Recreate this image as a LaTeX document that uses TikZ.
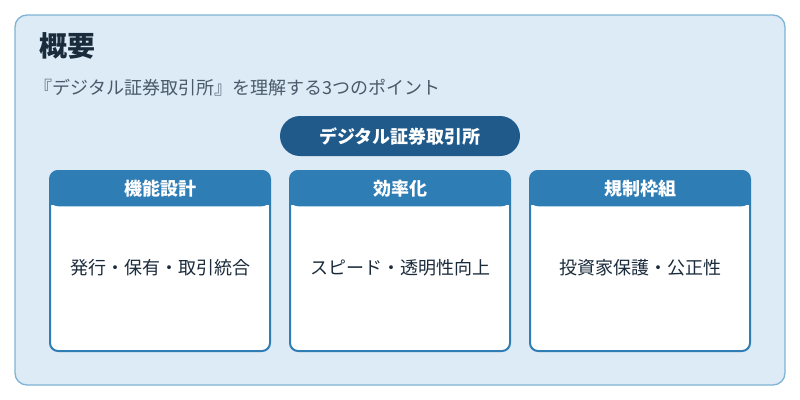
\documentclass[tikz,border=0pt]{standalone}
\usepackage{fontspec}
\setmainfont{Noto Sans CJK JP}
\usetikzlibrary{positioning}
\definecolor{bgblue}{HTML}{DCEBF6}
\definecolor{edgeblue}{HTML}{7FB3D5}
\definecolor{headblue}{HTML}{2E7DB5}
\definecolor{pillblue}{HTML}{1F5A8A}
\definecolor{titleink}{HTML}{1A2B3C}
\definecolor{subink}{HTML}{4A5A6A}
\tikzset{
  cardbody/.style={draw=headblue, line width=1.5pt, fill=white, rounded corners=6pt,
    minimum width=165pt, minimum height=135pt, anchor=north},
  cardhead/.style={fill=headblue, text=white, font=\bfseries\fontsize{13.5}{16}\selectfont,
    minimum width=165pt, minimum height=27pt, anchor=north, rounded corners=6pt},
  cardtext/.style={font=\fontsize{13.5}{16}\selectfont, text=titleink}
}
\begin{document}
\begin{tikzpicture}[x=0.75pt,y=-0.75pt]
  \useasboundingbox (0,0) rectangle (800,400);
  \draw[draw=edgeblue, fill=bgblue, line width=1pt, rounded corners=9pt] (15,15) rectangle (785,385);
  \node[anchor=west, text=titleink, font=\bfseries\fontsize{21}{25}\selectfont] (title) at (35,46) {概要};
  \node[anchor=west, text=subink, font=\fontsize{13.5}{16}\selectfont] (sub) at (30,88) {『デジタル証券取引所』を理解する3つのポイント};
  \node[fill=pillblue, text=white, rounded corners=15pt, minimum width=180pt, minimum height=30pt,
    font=\bfseries\fontsize{13.5}{16}\selectfont] (pill) at (400,136) {デジタル証券取引所};
  % cards
  \foreach \cx/\head/\body/\nm in {160/機能設計/発行・保有・取引統合/a, 400/効率化/スピード・透明性向上/b, 640/規制枠組/投資家保護・公正性/c}{
    \node[cardbody] (body\nm) at (\cx,170) {};
    \fill[headblue] ([yshift=-26pt]body\nm.north west) rectangle ([yshift=-19pt]body\nm.north east);
    \node[cardhead] (head\nm) at (\cx,170) {\head};
    \node[cardtext] (text\nm) at (\cx,268) {\body};
  }
\end{tikzpicture}
\end{document}
